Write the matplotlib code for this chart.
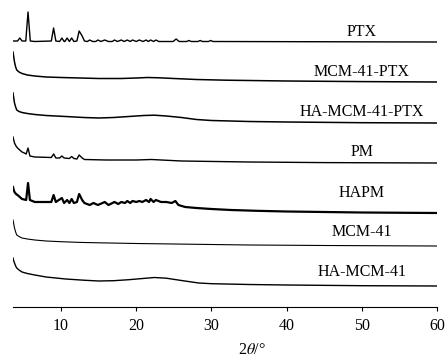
import matplotlib
matplotlib.use("Agg")
import matplotlib.pyplot as plt

# XRD patterns: 2theta (deg) and intensity above each pattern's own baseline (a.u.)
ptx_2t = [3.6, 4.2, 4.5, 4.8, 5.3, 5.6, 5.9, 6.5, 8.7, 9.0, 9.3, 9.8, 10.1, 10.4, 10.5, 10.8,
          11.1, 11.4, 11.7, 12.1, 12.4, 12.8, 13.1, 13.5, 13.8, 14.2, 14.6, 14.9, 15.3, 15.8,
          16.3, 16.8, 17.1, 17.5, 18.0, 18.4, 18.8, 19.2, 19.5, 20.0, 20.4, 20.9, 21.3, 21.6,
          21.9, 22.3, 22.6, 23.0, 24.9, 25.3, 25.7, 26.7, 27.0, 27.3, 28.2, 28.5, 28.8, 29.6,
          29.9, 30.2, 60.0]
ptx_int = [1, 1, 4, 1, 1, 30, 1, 0.5, 1, 14, 1, 0.5, 4, 0.5, 0.5, 4,
           0.5, 4, 0.5, 1, 11, 6, 1, 0.5, 2, 0.5, 0.5, 2, 0.5, 2,
           0.5, 0.5, 2, 0.5, 2, 0.5, 2, 0.5, 2, 0.5, 2, 0.5, 2, 0.5,
           2, 0.5, 2, 0.5, 0.5, 3, 0.5, 0.5, 1.5, 0.5, 0.5, 1.5, 0.5, 0.5,
           1.5, 0.5, 0]

mcmptx_2t = [3.6, 3.7, 3.8, 3.95, 4.1, 4.4, 4.8, 5.5, 6.5, 8.0, 10.0, 12.5, 15.0, 18.0, 20.0,
             21.5, 23.0, 25.0, 28.0, 32.0, 40.0, 50.0, 60.0]
mcmptx_int = [30, 25, 20, 15, 12, 10, 8.5, 7, 6, 5, 4.5, 4, 3.5, 3.5, 4,
              4.5, 4.2, 3.5, 2.5, 1.8, 1, 0.4, 0]

hamcmptx_2t = [3.6, 3.7, 3.8, 3.95, 4.1, 4.4, 4.8, 5.5, 6.5, 8.0, 10.6, 13.0, 15.0, 17.0,
               19.0, 21.0, 22.4, 24.0, 26.0, 28.0, 30.0, 35.0, 40.0, 50.0, 60.0]
hamcmptx_int = [30, 25, 20, 16, 13, 11.5, 10.5, 9.5, 8.5, 7.5, 6.5, 5.5, 5, 5.5,
                6.5, 7.5, 7.8, 7, 5.5, 3.5, 2.5, 1.5, 1, 0.3, 0]

pm_2t = [3.6, 3.7, 3.8, 4.0, 4.2, 4.5, 4.8, 5.1, 5.35, 5.6, 5.85, 6.5, 8.7, 9.0, 9.3, 9.8,
         10.1, 10.4, 11.1, 11.4, 11.7, 12.1, 12.4, 12.8, 13.1, 16.0, 20.0, 22.0, 26.0,
         35.0, 45.0, 60.0]
pm_int = [26, 23, 20, 17, 15, 13, 11, 10, 9, 15, 7, 6, 5.5, 9, 5, 5,
          7, 5, 4.5, 6.5, 4.5, 4, 8, 5, 3.5, 3, 3, 3.5, 2,
          1, 0.4, 0]

hapm_2t = [3.6, 3.7, 3.8, 4.0, 4.2, 4.5, 4.8, 5.1, 5.35, 5.6, 5.85, 6.5, 8.7, 9.0, 9.3, 10.1,
           10.4, 10.8, 11.1, 11.4, 11.7, 12.1, 12.4, 12.8, 13.1, 13.8, 14.3, 14.9, 15.8,
           16.3, 17.1, 17.6, 18.0, 18.5, 18.8, 19.2, 19.5, 20.0, 20.4, 20.8, 21.3, 21.7,
           21.9, 22.3, 22.6, 23.3, 24.0, 24.7, 25.2, 25.6, 26.5, 28.0, 30.0, 32.6, 36.0,
           40.0, 50.0, 60.0]
hapm_int = [26, 23, 21, 19, 18, 16, 14, 13.5, 13, 30, 13, 11, 11, 18, 11, 15,
            10, 13, 10, 14, 10, 11, 19, 13, 10, 8, 10, 8, 11,
            8, 11, 9, 11, 10, 12, 10, 12, 11, 12, 11, 13, 11,
            14, 11, 13, 11, 11, 10, 12, 8, 6, 5, 4, 3, 2.2,
            1.5, 0.5, 0]

mcm_2t = [3.6, 3.7, 3.8, 3.95, 4.1, 4.4, 4.8, 5.5, 6.5, 8.0, 10.0, 12.5, 15.0, 20.0, 25.0,
          30.0, 35.0, 45.0, 60.0]
mcm_int = [26, 22, 18, 14, 11, 9.5, 8, 7, 6, 5, 4.3, 3.6, 3.2, 2.5, 2,
           1.5, 1, 0.5, 0]

hamcm_2t = [3.6, 3.7, 3.8, 3.95, 4.1, 4.4, 4.8, 5.5, 6.5, 8.0, 10.6, 13.0, 15.0, 17.0,
            19.0, 20.4, 22.4, 24.0, 26.0, 28.3, 30.0, 35.0, 40.0, 50.0, 60.0]
hamcm_int = [28, 25, 23, 20, 18, 16, 14, 12.5, 11, 9, 7, 5.8, 5, 5.3,
             6.3, 7.2, 8.5, 7.8, 5.5, 3, 2.3, 1.5, 1, 0.3, 0]

names = ["PTX", "MCM-41-PTX", "HA-MCM-41-PTX", "PM", "HAPM", "MCM-41", "HA-MCM-41"]
patterns = [(ptx_2t, ptx_int), (mcmptx_2t, mcmptx_int), (hamcmptx_2t, hamcmptx_int),
            (pm_2t, pm_int), (hapm_2t, hapm_int), (mcm_2t, mcm_int), (hamcm_2t, hamcm_int)]

# stacking offsets and label heights (same units as intensity)
offsets = [265, 225, 184, 144, 94, 61, 21]
label_y = [275, 235, 195, 155, 114, 75, 35]
widths = [1.0, 1.1, 1.1, 1.0, 1.6, 0.8, 1.0]

plt.rcParams['font.family'] = ['Liberation Serif', 'DejaVu Serif']
plt.rcParams['mathtext.fontset'] = 'stix'

fig = plt.figure(figsize=(4.46, 3.59), dpi=100)
ax = fig.add_axes([13 / 446, 52 / 359, 424 / 446, 307 / 359])

for name, (tt, ii), off, ly, lw in zip(names, patterns, offsets, label_y, widths):
    ax.plot(tt, [v + off for v in ii], color='black', lw=lw, solid_joinstyle='round')
    ax.text(50, ly, name, ha='center', va='center', fontsize=11.5)

ax.set_xlim(3.6, 60)
ax.set_ylim(0, 307)
ax.set_xticks([10, 20, 30, 40, 50, 60])
ax.tick_params(axis='x', direction='out', length=3, width=0.8, labelsize=11.5, pad=5)
ax.set_yticks([])
for s in ['left', 'right', 'top']:
    ax.spines[s].set_visible(False)
ax.spines['bottom'].set_linewidth(0.8)
ax.set_xlabel(r'2$\mathit{\theta}$/°', fontsize=11.5, va='center')
ax.xaxis.set_label_coords((252 - 13) / 424, -(350 - 307) / 307)

fig.savefig('out.png', dpi=100)
